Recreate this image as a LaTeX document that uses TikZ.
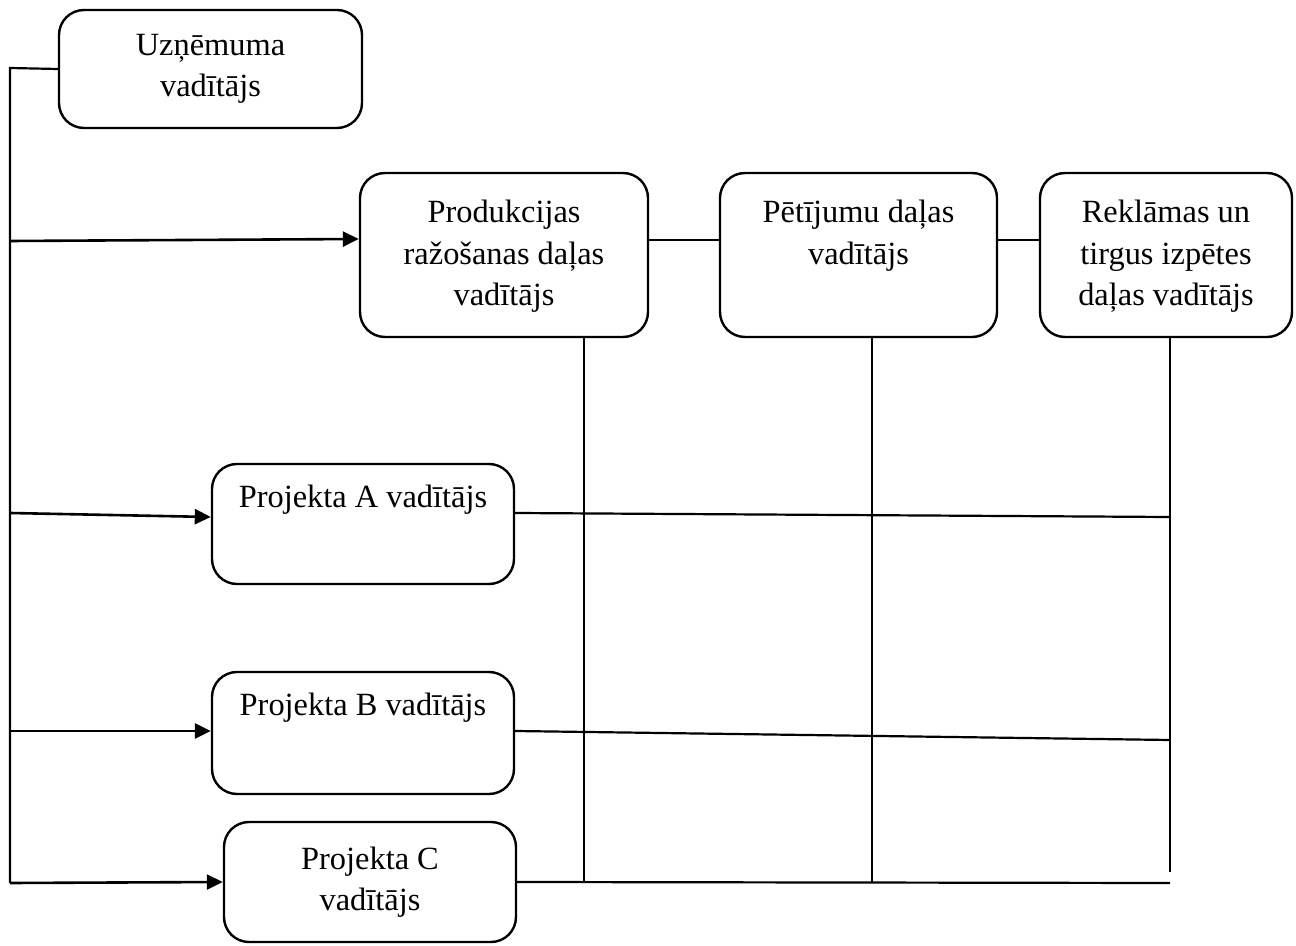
\documentclass[tikz,border=0pt]{standalone}
\usepackage{fontspec}
\setmainfont{Liberation Serif}
\usetikzlibrary{arrows.meta,fit,calc}
\tikzset{
  box/.style={draw, line width=1.2pt, rounded corners=12.5pt, inner sep=0pt},
  lbl/.style={anchor=base, align=center, inner sep=0pt,
              font=\fontsize{16.2}{20.75}\selectfont},
  wire/.style={line width=1.1pt},
  feed/.style={line width=1.3pt, -{Triangle[length=8pt,width=7.5pt]}}
}
\begin{document}
\begin{tikzpicture}[x=0.5pt,y=-0.5pt]
\useasboundingbox (0,0) rectangle (1296,946);

% management boxes
\node[box, fit={(59,10) (362,128)}] (uz) {};
\node[box, fit={(360,173) (648,337)}] (prod) {};
\node[box, fit={(720,173) (997,337)}] (pet) {};
\node[box, fit={(1040,173) (1292,337)}] (rek) {};
\node[box, fit={(212,464) (514,584)}] (pa) {};
\node[box, fit={(212,672) (514,794)}] (pb) {};
\node[box, fit={(224,822) (516,942)}] (pc) {};

% box texts (anchored at the baseline of the last line)
\node[lbl] (uzt) at ($(uz.north)+(0,88)$) {Uzņēmuma\\vadītājs};
\node[lbl] (prodt) at ($(prod.north)+(0,134)$) {Produkcijas\\ražošanas daļas\\vadītājs};
\node[lbl] (pett) at ($(pet.north)+(0,92.5)$) {Pētījumu daļas\\vadītājs};
\node[lbl] (rekt) at ($(rek.north)+(0,134)$) {Reklāmas un\\tirgus izpētes\\daļas vadītājs};
\node[lbl] (pat) at ($(pa.north)+(0,45)$) {Projekta A vadītājs};
\node[lbl] (pbt) at ($(pb.north)+(0,45)$) {Projekta B vadītājs};
\node[lbl] (pct) at ($(pc.north)+(0,90)$) {Projekta C\\vadītājs};

% trunk from the top manager
\coordinate (t0) at (10,68);
\coordinate (tp) at (10,241);
\coordinate (ta) at (10,513);
\coordinate (tb) at (10,731);
\coordinate (tc) at (10,883);
\draw[wire] (uz.west) -- (t0) -- (tc);

\draw[feed] (tp) -- ($(prod.west)+(0,-16)$);
\draw[feed] (ta) -- ($(pa.west)+(0,-7)$);
\draw[feed] (tb) -- ($(pb.west)+(0,-2)$);
\draw[feed] (tc) -- (pc.west);

% links between department heads
\draw[wire] ($(prod.east)+(0,-15)$) -- ($(pet.west)+(0,-15)$);
\draw[wire] ($(pet.east)+(0,-15)$) -- ($(rek.west)+(0,-15)$);

% department columns
\coordinate (c1) at (584,883);
\coordinate (c2) at (872,883);
\coordinate (c3) at (1170,872);
\draw[wire] (prod.south -| c1) -- (c1);
\draw[wire] (pet.south -| c2) -- (c2);
\draw[wire] (rek.south -| c3) -- (c3);

% project rows
\coordinate (ra) at (1170,517);
\coordinate (rb) at (1170,740);
\coordinate (rc) at (1170,883);
\draw[wire] ($(pa.east)+(0,-11)$) -- (ra);
\draw[wire] ($(pb.east)+(0,-2)$) -- (rb);
\draw[wire] (pc.east) -- (rc);
\end{tikzpicture}
\end{document}
